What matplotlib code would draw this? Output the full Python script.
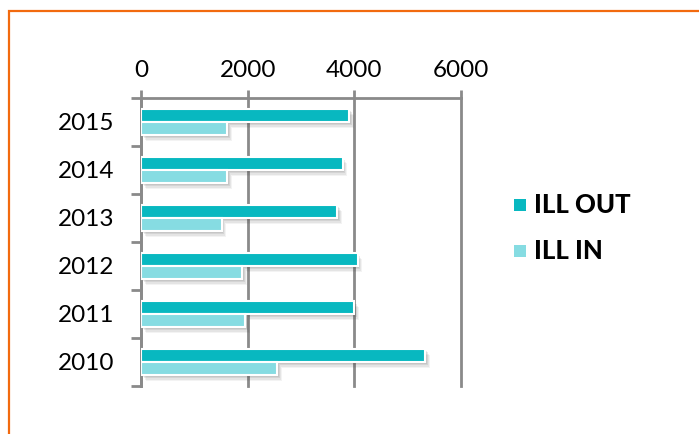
import matplotlib
matplotlib.use("Agg")
import matplotlib.pyplot as plt
import matplotlib.patches as mpatches
import matplotlib.patheffects as pe
import numpy as np

years = ["2010", "2011", "2012", "2013", "2014", "2015"]
ill_out = [5330, 3990, 4060, 3680, 3780, 3900]
ill_in = [2550, 1950, 1900, 1510, 1620, 1620]
series_names = ["ILL OUT", "ILL IN"]
x_ticks = [0, 2000, 4000, 6000]

c_out = "#08B8C0"
c_in = "#86DCE2"
grid_c = "#8A8A8A"
border_c = "#F26A0F"

W, H = 699, 434
fig = plt.figure(figsize=(W / 100, H / 100), dpi=100)
fig.patch.set_facecolor("white")

# orange frame running off the right and bottom edges
fig.patches.append(mpatches.Rectangle((9 / W, -0.1), 1.2, (H - 11) / H + 0.1,
                                      transform=fig.transFigure, fill=False,
                                      edgecolor=border_c, linewidth=1.6))

ax = fig.add_axes([141 / W, 1 - 386 / H, 320 / W, 288 / H])
font = "Lato"

y = np.arange(len(years))
h = 0.27
# soft drop shadow built from a few stacked translucent offsets
shadow = [pe.SimplePatchShadow(offset=(d, -d * 1.2), shadow_rgbFace="#404040", alpha=a)
          for d, a in [(3.5, 0.06), (2.8, 0.08), (2.0, 0.10), (1.2, 0.10)]] + [pe.Normal()]
b1 = ax.barh(y + 0.135, ill_out, height=h, color=c_out, edgecolor="white",
             linewidth=1.5, label=series_names[0], zorder=3)
b2 = ax.barh(y - 0.135, ill_in, height=h, color=c_in, edgecolor="white",
             linewidth=1.5, label=series_names[1], zorder=3)
for b in list(b1) + list(b2):
    b.set_path_effects(shadow)

ax.set_xlim(0, 6000)
ax.set_ylim(-0.5, len(years) - 0.5)

ax.xaxis.tick_top()
ax.set_xticks(x_ticks)
ax.set_xticklabels([str(v) for v in x_ticks], fontsize=17.5, family=font)
ax.tick_params(axis="x", which="major", length=6, width=2, color=grid_c, pad=6)
ax.grid(axis="x", color=grid_c, linewidth=2, zorder=1)
for gl in ax.get_xgridlines():
    gl.set_clip_on(False)

ax.set_yticks(y)
ax.set_yticklabels(years, fontsize=17.5, family=font)
ax.set_yticks(np.arange(len(years) + 1) - 0.5, minor=True)
ax.tick_params(axis="y", which="major", length=0, pad=19)
ax.tick_params(axis="y", which="minor", length=7, width=2, color=grid_c)

for s in ["right", "bottom"]:
    ax.spines[s].set_visible(False)
for s in ["top", "left"]:
    ax.spines[s].set_color(grid_c)
    ax.spines[s].set_linewidth(2)
ax.set_axisbelow(True)

# legend entries
for i, (name, col) in enumerate(zip(series_names, [c_out, c_in])):
    yc = 1 - (205 + 46 * i) / H
    fig.patches.append(mpatches.Rectangle((514 / W, yc - 6 / H), 12 / W, 12 / H,
                                          transform=fig.transFigure,
                                          facecolor=col, edgecolor="none"))
    fig.text(534 / W, yc, name, fontsize=18.5, family=font, fontweight="black",
             va="center", ha="left")

fig.savefig("out.png", dpi=100, facecolor="white")
